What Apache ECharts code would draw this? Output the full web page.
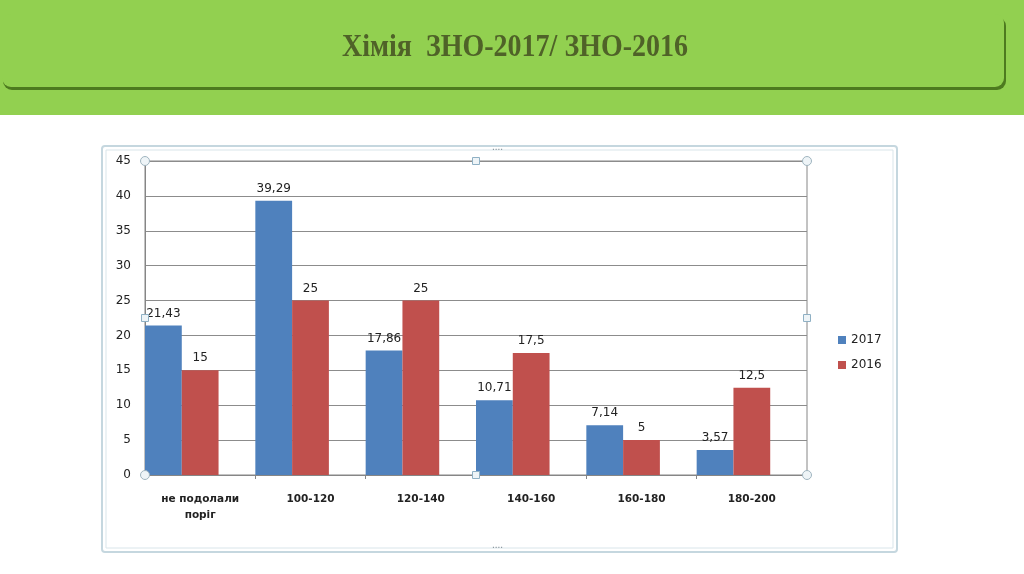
<!DOCTYPE html>
<html>
<head>
<meta charset="utf-8">
<script src="https://cdn.jsdelivr.net/npm/echarts@6/dist/echarts.min.js"></script>
<style>
  html, body { margin: 0; padding: 0; background: #fff; }
  #main { width: 1024px; height: 574px; }
</style>
</head>
<body>
<div id="main"></div>
<script>
// дані діаграми
const categories = ['не подолали\nпоріг', '100-120', '120-140', '140-160', '160-180', '180-200'];
const values2017 = [21.43, 39.29, 17.86, 10.71, 7.14, 3.57];
const values2016 = [15, 25, 25, 17.5, 5, 12.5];
const yTicks = [0, 5, 10, 15, 20, 25, 30, 35, 40, 45];

// межі області побудови
const G = { left: 145, top: 161, right: 807, bottom: 475 };

const chart = echarts.init(document.getElementById('main'));

const comma = p => String(p.value).replace('.', ',');

// маркери виділення (як у PowerPoint)
const midX = (G.left + G.right) / 2, midY = (G.top + G.bottom) / 2;
const handles = [];
[[G.left, G.top], [G.right, G.top], [G.left, G.bottom], [G.right, G.bottom]].forEach(p => {
  handles.push({ type: 'circle', shape: { cx: p[0], cy: p[1], r: 4.5 }, z: 100,
    style: { fill: '#eef4f7', stroke: '#9fb4bf', lineWidth: 1 } });
});
[[midX, G.top], [midX, G.bottom], [G.left, midY], [G.right, midY]].forEach(p => {
  handles.push({ type: 'rect', shape: { x: p[0] - 3.5, y: p[1] - 3.5, width: 7, height: 7 }, z: 100,
    style: { fill: '#eef4f7', stroke: '#8fb0c4', lineWidth: 1 } });
});

const labelStyle = { fontFamily: 'DejaVu Sans', fontSize: 12, color: '#222' };

chart.setOption({
  animation: false,
  graphic: [
    // зелена шапка
    { type: 'rect', shape: { x: 0, y: 0, width: 1024, height: 115 }, style: { fill: '#92D050' }, z: -10 },
    { type: 'rect', shape: { x: 3, y: 17, width: 1003, height: 73, r: 9 }, z: -9,
      style: { fill: '#4d7a1f' } },
    { type: 'rect', shape: { x: 2, y: 14, width: 1002, height: 73, r: 9 }, z: -8,
      style: { fill: '#92D050' } },
    { type: 'text', x: 515, y: 54, z: 10, scaleY: 1.12, originX: 515, originY: 54,
      style: { text: 'Хімія  ЗНО-2017/ ЗНО-2016', fill: '#4F6228', align: 'center', verticalAlign: 'middle',
        font: 'bold 28px "Liberation Serif", serif' } },
    // рамка діаграми
    { type: 'rect', shape: { x: 102, y: 146, width: 795, height: 406, r: 3 }, z: -5,
      style: { fill: 'none', stroke: '#c5d7df', lineWidth: 2 } },
    { type: 'rect', shape: { x: 106, y: 150, width: 787, height: 398 }, z: -5,
      style: { fill: 'none', stroke: '#d9e5ea', lineWidth: 1 } },
    { type: 'text', x: 492, y: 142, style: { text: '....', fill: '#7f8c94', font: '10px sans-serif' } },
    { type: 'text', x: 492, y: 540, style: { text: '....', fill: '#7f8c94', font: '10px sans-serif' } },
    ...handles
  ],
  grid: {
    left: G.left, top: G.top, width: G.right - G.left, height: G.bottom - G.top,
    show: true, borderColor: '#868686', borderWidth: 1
  },
  legend: {
    orient: 'vertical', left: 833, top: 329, itemWidth: 8, itemHeight: 8, itemGap: 13,
    icon: 'rect', data: ['2017', '2016'],
    textStyle: labelStyle
  },
  xAxis: {
    type: 'category', data: categories,
    axisLine: { lineStyle: { color: '#868686' } },
    axisTick: { show: true, length: 4, lineStyle: { color: '#868686' } },
    axisLabel: { fontFamily: 'DejaVu Sans', fontSize: 10.5, color: '#222', fontWeight: 'bold',
      margin: 16, lineHeight: 16 }
  },
  yAxis: {
    type: 'value', min: 0, max: 45, interval: 5,
    axisLine: { show: true, lineStyle: { color: '#868686' } },
    axisTick: { show: false },
    splitLine: { lineStyle: { color: '#8c8c8c' } },
    axisLabel: Object.assign({ margin: 14, formatter: v => yTicks.includes(v) ? String(v) : '' }, labelStyle)
  },
  series: [
    { name: '2017', type: 'bar', data: values2017, barGap: '0%', barCategoryGap: '0%',
      itemStyle: { color: '#4F81BD' },
      label: Object.assign({ show: true, position: 'top', distance: 6, formatter: comma }, labelStyle) },
    { name: '2016', type: 'bar', data: values2016,
      itemStyle: { color: '#C0504D' },
      label: Object.assign({ show: true, position: 'top', distance: 6, formatter: comma }, labelStyle) },
    // порожній ряд, що зсуває стовпці вліво в межах категорії
    { name: 'gap', type: 'bar', data: categories.map(() => null), silent: true }
  ]
});
</script>
</body>
</html>
